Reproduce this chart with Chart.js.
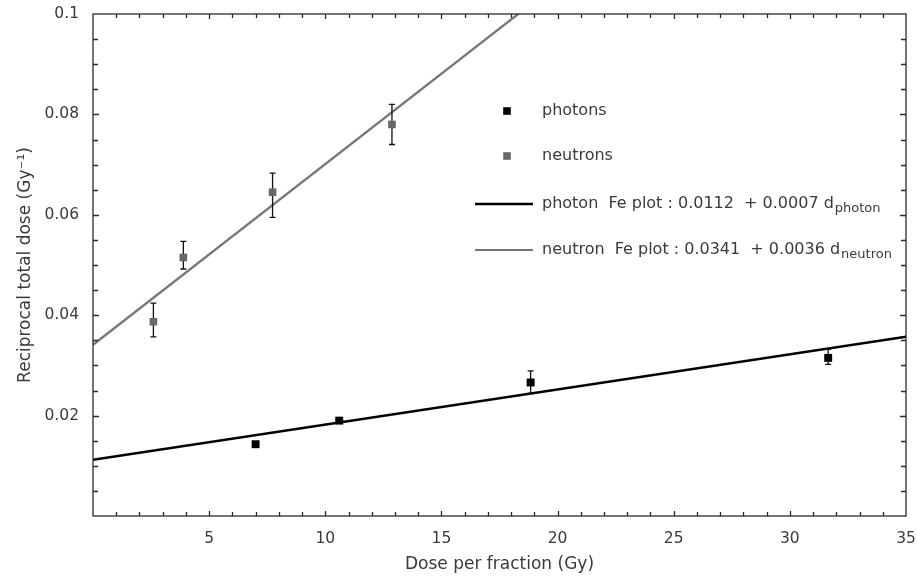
<!DOCTYPE html>
<html>
<head>
<meta charset="utf-8">
<script src="https://cdn.jsdelivr.net/npm/chart.js@4.4.1/dist/chart.umd.min.js"></script>
<style>
  html, body { margin: 0; padding: 0; background: #fff; }
  #wrap { width: 917px; height: 576px; position: relative; }
</style>
</head>
<body>
<div id="wrap"><canvas id="c"></canvas></div>
<script>
// Photon measurements: dose per fraction (Gy) vs reciprocal total dose (1/Gy)
const photonDose   = [7.0, 10.6, 18.84, 31.65];
const photonRecip  = [0.0143, 0.0190, 0.0266, 0.0315];
const photonErrLow = [null, null, 0.0244, 0.0302];
const photonErrHigh= [null, null, 0.0289, 0.0332];

// Neutron measurements
const neutronDose   = [2.6, 3.89, 7.73, 12.87];
const neutronRecip  = [0.0387, 0.0515, 0.0645, 0.0780];
const neutronErrLow = [0.0357, 0.0492, 0.0595, 0.0740];
const neutronErrHigh= [0.0424, 0.0547, 0.0683, 0.0820];

// Fe-plot fits: [intercept, slope]  ->  1/D = intercept + slope * d
const photonFit  = [0.0112, 0.0007];
const neutronFit = [0.0341, 0.0036];
const fitDoseRange = [0, 35];

// Axis ticks and labels
const xTickValues = [0, 5, 10, 15, 20, 25, 30, 35];
const xTickLabels = ['', '5', '10', '15', '20', '25', '30', '35'];
const yTickValues = [0, 0.02, 0.04, 0.06, 0.08, 0.1];
const yTickLabels = ['', '0.02', '0.04', '0.06', '0.08', '0.1'];
const xMinorStep = 1;
const yMinorStep = 0.005;

const seriesNames = ['photons', 'neutrons'];
const fitNames = ['photon', 'neutron'];

const FONT = '"DejaVu Sans", Verdana, sans-serif';
const TEXT = '#3a3a3a';
const PHOTON = '#000000';
const NEUTRON = '#686868';
const NEUTRON_LINE = '#767676';

const fitPoints = (fit) => fitDoseRange.map(d => ({ x: d, y: fit[0] + fit[1] * d }));
const points = (xs, ys) => xs.map((x, i) => ({ x, y: ys[i] }));

// Error bars, drawn just before each scatter dataset so the marker sits on top
const errorBars = {
  id: 'errorBars',
  beforeDatasetDraw(chart, args) {
    const ds = chart.data.datasets[args.index];
    if (!ds.errLow) return;
    const { ctx } = chart;
    const x = chart.scales.x, y = chart.scales.y;
    ctx.save();
    ctx.strokeStyle = '#111';
    ctx.lineWidth = 1.3;
    ctx.beginPath();
    ds.data.forEach((p, i) => {
      const lo = ds.errLow[i], hi = ds.errHigh[i];
      if (lo == null || hi == null) return;
      const px = x.getPixelForValue(p.x);
      const py0 = y.getPixelForValue(lo), py1 = y.getPixelForValue(hi);
      ctx.moveTo(px, py0); ctx.lineTo(px, py1);
      ctx.moveTo(px - 3, py0); ctx.lineTo(px + 3, py0);
      ctx.moveTo(px - 3, py1); ctx.lineTo(px + 3, py1);
    });
    ctx.stroke();
    ctx.restore();
  }
};

// Boxed frame with inward tick marks on all four sides
const frameTicks = {
  id: 'frameTicks',
  afterDatasetsDraw(chart) {
    const { ctx, chartArea: a } = chart;
    const x = chart.scales.x, y = chart.scales.y;
    ctx.save();
    ctx.strokeStyle = '#2b2b2b';
    ctx.lineWidth = 1.3;
    ctx.strokeRect(a.left, a.top, a.right - a.left, a.bottom - a.top);
    ctx.beginPath();
    const nx = Math.round((x.max - x.min) / xMinorStep);
    for (let i = 1; i < nx; i++) {
      const v = x.min + i * xMinorStep;
      const px = Math.round(x.getPixelForValue(v)) + 0.5;
      const len = i % 5 === 0 ? 5 : 4;
      ctx.moveTo(px, a.bottom); ctx.lineTo(px, a.bottom - len);
      ctx.moveTo(px, a.top); ctx.lineTo(px, a.top + len);
    }
    const ny = Math.round((y.max - y.min) / yMinorStep);
    for (let i = 1; i < ny; i++) {
      const v = y.min + i * yMinorStep;
      const py = Math.round(y.getPixelForValue(v)) + 0.5;
      const len = i % 4 === 0 ? 6 : 5;
      ctx.moveTo(a.left, py); ctx.lineTo(a.left + len, py);
      ctx.moveTo(a.right, py); ctx.lineTo(a.right - len, py);
    }
    ctx.stroke();
    ctx.restore();
  }
};

// In-plot legend: two marker entries and two fit-line entries with subscripts
const plotLegend = {
  id: 'plotLegend',
  afterDraw(chart) {
    const { ctx } = chart;
    const markX = 507, lineX0 = 475, lineX1 = 533, textX = 542;
    const rows = [111, 156, 204, 250];
    ctx.save();
    ctx.textBaseline = 'middle';
    ctx.textAlign = 'left';
    ctx.font = '16px ' + FONT;
    ctx.fillStyle = TEXT;

    [PHOTON, NEUTRON].forEach((c, i) => {
      ctx.fillStyle = c;
      ctx.fillRect(markX - 3.8, rows[i] - 3.8, 7.6, 7.6);
      ctx.fillStyle = TEXT;
      ctx.fillText(seriesNames[i], textX, rows[i]);
    });

    [[photonFit, PHOTON, 2.4], [neutronFit, NEUTRON_LINE, 2.2]].forEach(([fit, c, w], i) => {
      const ry = rows[2 + i];
      ctx.strokeStyle = c;
      ctx.lineWidth = w;
      ctx.beginPath();
      ctx.moveTo(lineX0, ry); ctx.lineTo(lineX1, ry);
      ctx.stroke();
      const main = fitNames[i] + '  Fe plot : ' + fit[0].toFixed(4) + '  + ' + fit[1].toFixed(4) + ' d';
      ctx.font = '16px ' + FONT;
      ctx.fillStyle = TEXT;
      ctx.fillText(main, textX, ry);
      const w0 = ctx.measureText(main).width;
      ctx.font = '13px ' + FONT;
      ctx.fillText(fitNames[i], textX + w0 + 1, ry + 5);
    });
    ctx.restore();
  }
};

const fmtTick = (vals, labels) => (value) => {
  const i = vals.findIndex(v => Math.abs(v - value) < 1e-9);
  return i >= 0 ? labels[i] : '';
};

new Chart(document.getElementById('c'), {
  data: {
    datasets: [
      {
        type: 'line', label: 'photon Fe plot', data: fitPoints(photonFit),
        borderColor: PHOTON, borderWidth: 2.5, pointRadius: 0, tension: 0, order: 3
      },
      {
        type: 'line', label: 'neutron Fe plot', data: fitPoints(neutronFit),
        borderColor: NEUTRON_LINE, borderWidth: 2.3, pointRadius: 0, tension: 0, order: 3
      },
      {
        type: 'scatter', label: seriesNames[0], data: points(photonDose, photonRecip),
        errLow: photonErrLow, errHigh: photonErrHigh,
        pointStyle: 'rect', pointRadius: 5.6, backgroundColor: PHOTON, borderColor: PHOTON,
        borderWidth: 0, order: 1
      },
      {
        type: 'scatter', label: seriesNames[1], data: points(neutronDose, neutronRecip),
        errLow: neutronErrLow, errHigh: neutronErrHigh,
        pointStyle: 'rect', pointRadius: 5.4, backgroundColor: NEUTRON, borderColor: NEUTRON,
        borderWidth: 0, order: 1
      }
    ]
  },
  options: {
    responsive: true,
    maintainAspectRatio: false,
    animation: false,
    devicePixelRatio: 1,
    layout: { padding: { top: 14, right: 11, left: 0, bottom: 0 } },
    plugins: { legend: { display: false }, tooltip: { enabled: false } },
    scales: {
      x: {
        type: 'linear', min: 0, max: 35,
        afterBuildTicks: (s) => { s.ticks = xTickValues.map(v => ({ value: v })); },
        afterFit: (s) => { s.height = 60; s.paddingLeft = 0; s.paddingRight = 0; },
        grid: { display: false, drawTicks: false },
        border: { display: false },
        ticks: { callback: fmtTick(xTickValues, xTickLabels), padding: 14, color: TEXT, font: { family: FONT, size: 15.5 }, maxRotation: 0, autoSkip: false },
        title: { display: true, text: 'Dose per fraction (Gy)', color: TEXT, font: { family: FONT, size: 17 }, padding: { top: 0, bottom: 1 } }
      },
      y: {
        type: 'linear', min: 0, max: 0.1,
        afterBuildTicks: (s) => { s.ticks = yTickValues.map(v => ({ value: v })); },
        afterFit: (s) => { s.width = 93; s.paddingTop = 0; s.paddingBottom = 0; },
        grid: { display: false, drawTicks: false },
        border: { display: false },
        ticks: { callback: fmtTick(yTickValues, yTickLabels), padding: 14, color: TEXT, font: { family: FONT, size: 15.5 }, autoSkip: false },
        title: { display: true, text: 'Reciprocal total dose (Gy\u207B\u00B9)', color: TEXT, font: { family: FONT, size: 17 }, padding: { top: 15, bottom: 0 } }
      }
    }
  },
  plugins: [errorBars, frameTicks, plotLegend]
});
</script>
</body>
</html>
